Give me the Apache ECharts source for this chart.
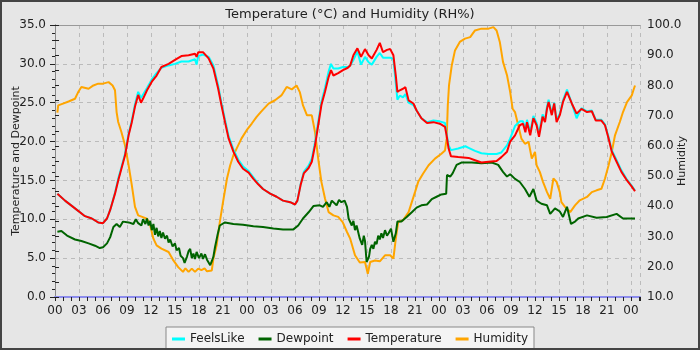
<!DOCTYPE html>
<html>
<head>
<meta charset="utf-8">
<script src="https://cdn.jsdelivr.net/npm/echarts/dist/echarts.min.js"></script>
<style>
  html, body { margin: 0; padding: 0; background: #e6e6e6; }
  #chart { width: 700px; height: 350px; }
</style>
</head>
<body>
<div id="chart"></div>
<script>
// Hours since first midnight
const temperature = [[0.3,13.3],[1.25,12.4],[2.5,11.4],[3.75,10.4],[4.6,10.1],[5.4,9.6],[6.0,9.5],[6.5,10.1],[6.9,11.2],[7.5,13.3],[7.9,15.0],[8.3,16.5],[8.75,18.2],[9.2,20.8],[9.6,22.5],[10.0,24.5],[10.4,26.0],[10.75,25.0],[11.0,25.5],[11.5,26.6],[12.1,27.7],[12.7,28.5],[13.3,29.6],[14.2,30.0],[15.0,30.5],[15.8,31.0],[16.7,31.1],[17.5,31.3],[17.7,30.9],[17.9,31.5],[18.1,31.5],[18.5,31.5],[19.2,30.7],[19.8,29.4],[20.4,26.8],[20.8,24.7],[21.25,22.5],[21.7,20.4],[22.3,18.7],[22.9,17.4],[23.5,16.5],[24.2,16.0],[24.8,15.2],[25.4,14.5],[26.0,13.9],[26.9,13.3],[27.7,12.9],[28.5,12.4],[29.4,12.2],[30.0,11.9],[30.3,12.4],[30.7,14.4],[31.1,15.9],[31.7,16.6],[32.1,17.4],[32.5,19.5],[32.9,22.1],[33.3,24.7],[33.75,26.4],[34.2,28.3],[34.5,29.2],[34.8,28.5],[35.4,28.8],[36.0,29.2],[36.6,29.5],[36.9,29.8],[37.3,31.1],[37.8,32.0],[38.25,30.9],[38.75,31.9],[39.2,31.1],[39.6,30.7],[40.2,31.8],[40.6,32.7],[41.0,31.5],[41.5,31.8],[41.9,31.9],[42.3,31.1],[42.6,28.5],[42.8,26.4],[43.1,26.6],[43.5,26.8],[43.8,27.0],[44.2,25.3],[44.8,24.9],[45.2,24.0],[45.8,23.0],[46.5,22.4],[47.3,22.5],[48.1,22.3],[48.75,21.9],[48.95,20.8],[49.2,19.1],[49.5,18.1],[50.4,18.0],[51.7,17.9],[52.5,17.6],[53.3,17.3],[54.2,17.4],[55.2,17.5],[55.8,18.0],[56.5,18.7],[56.9,20.0],[57.5,20.8],[58.1,22.1],[58.5,22.3],[58.8,21.2],[59.0,22.5],[59.4,20.8],[59.8,23.0],[60.2,22.1],[60.5,20.6],[60.95,23.2],[61.25,22.5],[61.5,24.2],[61.7,25.1],[62.1,23.4],[62.4,24.9],[62.7,22.5],[63.1,23.4],[63.5,25.1],[64.0,26.4],[64.6,24.9],[65.2,23.6],[65.8,24.2],[66.5,23.8],[67.1,23.9],[67.6,22.7],[68.3,22.7],[68.75,22.1],[69.2,20.4],[69.6,18.7],[70.2,17.4],[70.8,16.1],[71.5,15.0],[72.1,14.2],[72.5,13.6]];

const feelsLike = [[0.3,13.3],[1.25,12.4],[2.5,11.4],[3.75,10.4],[4.6,10.1],[5.4,9.6],[6.0,9.5],[6.5,10.1],[6.9,11.2],[7.5,13.4],[7.9,15.2],[8.3,16.7],[8.75,18.4],[9.2,21.0],[9.6,22.7],[10.0,24.8],[10.4,26.4],[10.75,25.6],[11.0,25.8],[11.5,26.9],[12.1,28.0],[12.7,28.8],[13.3,29.5],[14.2,29.8],[15.0,30.0],[15.8,30.3],[16.7,30.3],[17.5,30.6],[17.7,29.9],[17.9,31.0],[18.1,31.0],[18.5,31.2],[19.2,30.9],[19.8,29.8],[20.4,27.2],[20.8,25.0],[21.25,22.8],[21.7,20.7],[22.3,19.0],[22.9,17.7],[23.5,16.8],[24.2,16.2],[24.8,15.4],[25.4,14.6],[26.0,13.9],[26.9,13.3],[27.7,12.9],[28.5,12.4],[29.4,12.2],[30.0,11.9],[30.3,12.4],[30.7,14.5],[31.1,16.1],[31.7,16.9],[32.1,17.8],[32.5,19.9],[32.9,22.5],[33.3,25.1],[33.75,26.9],[34.2,29.0],[34.5,30.0],[34.8,29.4],[35.4,29.4],[36.0,29.6],[36.6,29.6],[36.9,29.8],[37.3,30.5],[37.8,31.6],[38.25,29.9],[38.75,30.9],[39.2,30.2],[39.6,29.9],[40.2,30.9],[40.6,31.4],[41.0,30.8],[41.5,30.8],[41.9,30.8],[42.3,30.6],[42.6,27.5],[42.8,25.4],[43.1,25.9],[43.5,25.7],[43.8,26.1],[44.2,25.0],[44.8,24.7],[45.2,24.0],[45.8,23.0],[46.5,22.5],[47.3,22.7],[48.1,22.6],[48.75,22.4],[48.95,21.0],[49.2,19.5],[49.5,18.9],[50.4,19.1],[51.3,19.4],[51.7,19.2],[52.5,18.8],[53.3,18.5],[54.2,18.4],[55.2,18.4],[55.8,18.6],[56.5,19.5],[56.9,20.4],[57.5,22.0],[58.1,22.6],[58.5,22.6],[58.8,21.6],[59.0,22.8],[59.4,21.2],[59.8,23.3],[60.2,22.4],[60.5,21.0],[60.95,23.5],[61.25,22.8],[61.5,24.5],[61.7,25.4],[62.1,23.6],[62.4,25.0],[62.7,22.8],[63.1,23.6],[63.5,25.3],[64.0,26.7],[64.6,24.9],[65.2,23.0],[65.8,24.3],[66.5,23.9],[67.1,24.0],[67.6,22.8],[68.3,22.8],[68.75,22.2],[69.2,20.6],[69.6,18.9],[70.2,17.6],[70.8,16.3],[71.5,15.1],[72.1,14.3],[72.5,13.7]];

const dewpoint = [[0.3,8.4],[0.8,8.5],[1.5,7.9],[2.5,7.4],[3.3,7.2],[4.2,6.9],[5.0,6.6],[5.6,6.3],[6.0,6.4],[6.5,6.9],[6.9,7.7],[7.3,9.0],[7.7,9.4],[8.1,9.0],[8.5,9.7],[9.2,9.6],[9.8,9.4],[10.1,10.0],[10.4,9.5],[10.8,9.2],[11.0,10.0],[11.3,9.4],[11.5,10.1],[11.7,9.2],[11.9,9.8],[12.1,8.6],[12.3,9.4],[12.5,8.0],[12.7,8.9],[12.9,7.8],[13.1,8.5],[13.3,7.6],[13.5,8.3],[13.75,7.5],[14.0,7.9],[14.2,7.0],[14.4,7.4],[14.7,6.5],[15.0,6.9],[15.2,6.0],[15.5,6.3],[15.7,5.3],[16.0,5.0],[16.2,4.4],[16.5,5.2],[16.7,5.9],[16.9,6.2],[17.1,5.0],[17.3,5.6],[17.5,4.9],[17.7,5.8],[18.0,5.0],[18.3,5.6],[18.5,4.9],[18.75,5.5],[19.0,4.8],[19.2,5.0],[19.4,4.1],[19.6,4.6],[19.8,5.2],[20.0,6.4],[20.3,7.9],[20.6,9.2],[21.25,9.6],[22.3,9.4],[23.5,9.3],[24.8,9.1],[26.0,9.0],[27.3,8.8],[28.5,8.7],[29.8,8.7],[30.4,9.2],[31.0,10.1],[31.7,10.9],[32.3,11.7],[33.1,11.8],[33.5,11.6],[33.96,12.2],[34.3,11.6],[34.6,12.4],[35.2,11.8],[35.5,12.5],[35.8,12.2],[36.2,12.4],[36.5,11.6],[36.7,10.1],[37.1,9.2],[37.3,9.8],[37.5,8.6],[37.7,9.2],[38.1,7.5],[38.4,6.7],[38.6,7.9],[38.75,7.2],[38.95,4.5],[39.25,5.2],[39.4,6.2],[39.6,6.7],[39.8,6.2],[40.0,7.1],[40.2,6.8],[40.4,7.9],[40.6,7.4],[40.8,8.2],[41.0,7.6],[41.25,8.6],[41.5,7.9],[41.7,8.2],[42.0,8.8],[42.3,7.1],[42.6,8.2],[42.8,9.7],[43.3,9.7],[43.96,10.3],[44.6,10.9],[45.2,11.5],[45.8,11.8],[46.5,11.9],[47.1,12.6],[47.7,12.9],[48.3,13.2],[48.9,13.3],[49.0,15.7],[49.4,15.5],[49.7,15.9],[50.2,17.0],[50.8,17.3],[52.1,17.3],[53.3,17.2],[54.6,17.3],[55.4,17.0],[56.0,16.1],[56.5,15.5],[56.9,15.8],[57.5,15.2],[58.1,14.8],[58.75,13.9],[59.3,12.9],[59.8,13.9],[60.2,12.4],[60.8,12.0],[61.5,11.8],[61.9,10.7],[62.5,11.4],[63.1,11.0],[63.5,10.3],[64.0,11.6],[64.5,9.4],[65.0,9.7],[65.4,10.1],[66.5,10.5],[67.7,10.2],[68.96,10.3],[70.2,10.7],[71.0,10.1],[71.9,10.1],[72.5,10.1]];

const humidity = [[0.3,71.0],[0.4,73.4],[1.0,74.0],[1.7,74.7],[2.5,75.6],[2.9,77.8],[3.3,79.5],[4.2,78.9],[4.8,80.0],[5.4,80.6],[6.0,80.6],[6.7,81.1],[7.2,80.0],[7.5,78.4],[7.7,71.2],[7.9,67.9],[8.3,64.6],[8.75,60.2],[9.2,53.6],[9.6,47.0],[10.0,39.8],[10.4,37.0],[10.9,36.5],[11.5,35.9],[11.9,33.7],[12.3,29.3],[12.7,27.1],[13.3,26.0],[14.2,24.9],[14.8,22.1],[15.4,19.9],[16.0,18.3],[16.3,19.5],[16.7,18.3],[17.1,19.4],[17.5,18.3],[17.9,19.4],[18.3,18.9],[18.7,19.5],[19.0,18.5],[19.6,18.8],[19.8,22.7],[20.2,27.1],[20.6,34.8],[21.0,41.4],[21.5,49.2],[21.9,53.6],[22.3,56.9],[22.7,59.1],[23.3,62.4],[23.96,65.2],[24.6,67.4],[25.2,69.6],[25.8,71.4],[26.7,74.0],[27.5,75.1],[28.3,76.7],[28.96,79.5],[29.6,78.7],[30.2,80.0],[30.6,77.8],[31.0,73.4],[31.5,70.1],[32.1,70.1],[32.5,64.6],[32.9,55.8],[33.3,48.1],[33.75,42.6],[34.2,38.1],[34.8,37.0],[35.4,36.5],[35.96,34.8],[36.5,31.5],[36.9,29.3],[37.5,23.8],[38.1,21.4],[38.75,21.6],[39.1,17.7],[39.4,21.6],[40.0,22.1],[40.6,21.8],[41.25,23.8],[41.9,23.8],[42.3,22.7],[42.6,29.3],[42.9,34.8],[43.5,35.4],[44.2,38.1],[44.6,41.4],[45.0,44.7],[45.4,48.1],[46.0,50.8],[46.7,53.6],[47.5,55.8],[48.3,57.4],[48.75,58.5],[48.96,62.4],[49.1,73.4],[49.25,80.0],[49.6,86.7],[50.0,91.6],[50.6,94.4],[51.25,95.5],[51.9,96.0],[52.5,98.2],[53.3,98.8],[54.2,98.8],[54.8,99.3],[55.0,99.5],[55.2,98.2],[55.6,94.4],[56.0,87.8],[56.5,83.4],[56.9,77.8],[57.2,72.3],[57.5,71.2],[57.9,66.8],[58.3,62.4],[58.75,60.7],[59.2,61.3],[59.6,55.8],[60.0,58.0],[60.2,53.6],[60.6,51.4],[61.0,48.1],[61.5,44.7],[61.9,42.5],[62.3,49.2],[62.7,48.1],[63.1,44.7],[63.3,41.4],[63.75,39.8],[64.4,38.1],[65.0,40.3],[65.6,42.0],[66.5,43.1],[67.1,44.7],[67.7,45.3],[68.3,45.8],[68.75,49.2],[69.2,53.6],[69.6,58.0],[70.0,63.5],[70.6,67.9],[71.0,71.2],[71.5,74.5],[72.1,76.7],[72.3,78.4],[72.5,80.0]];

const titleText = 'Temperature (°C) and Humidity (RH%)';
const leftAxisName = 'Temperature and Dewpoint';
const rightAxisName = 'Humidity';
const legendNames = ['FeelsLike', 'Dewpoint', 'Temperature', 'Humidity'];

const FONT = 'DejaVu Sans';
const chart = echarts.init(document.getElementById('chart'), null, { renderer: 'canvas' });

function hourLabel(v) {
  const r = Math.round(v);
  if (Math.abs(v - r) > 1e-6 || r % 3 !== 0) return '';
  const h = r % 24;
  return (h < 10 ? '0' : '') + h;
}

const option = {
  backgroundColor: '#e6e6e6',
  animation: false,
  textStyle: { fontFamily: FONT },
  title: {
    text: titleText, left: 'center', top: 3,
    textStyle: { fontFamily: FONT, fontSize: 13, fontWeight: 'normal', color: '#222' }
  },
  legend: {
    data: legendNames,
    bottom: -3, left: 'center',
    icon: 'rect', itemWidth: 13, itemHeight: 3, itemGap: 14,
    backgroundColor: '#f4f4f4', borderColor: '#888', borderWidth: 1,
    padding: [6, 6, 8, 6],
    textStyle: { fontFamily: FONT, fontSize: 12, color: '#222' }
  },
  grid: {
    left: 55, right: 60, top: 25, bottom: 53,
    containLabel: false, outerBoundsMode: 'none',
    show: true, backgroundColor: '#e6e6e6', borderWidth: 0
  },
  xAxis: [
    {
      type: 'value', min: 0, max: 73.125, interval: 3, position: 'bottom',
      axisLine: { show: true, lineStyle: { color: '#8c8cec', width: 2 } },
      axisTick: { show: true, length: 4, lineStyle: { color: '#222' } },
      minorTick: { show: true, splitNumber: 3, length: 4, lineStyle: { color: '#222' } },
      axisLabel: { formatter: hourLabel, fontFamily: FONT, fontSize: 12, color: '#222', margin: 8, showMaxLabel: false },
      splitLine: { show: true, lineStyle: { color: '#bbb', type: [4, 4] } }
    },
    {
      type: 'value', min: 0, max: 73.125, position: 'top',
      axisLine: { show: true, onZero: false, lineStyle: { color: '#999', width: 1 } },
      axisTick: { show: false }, axisLabel: { show: false }, splitLine: { show: false }
    }
  ],
  yAxis: [
    {
      type: 'value', min: 0, max: 35, interval: 5, position: 'left',
      name: leftAxisName, nameLocation: 'middle', nameGap: 33, nameRotate: 90, nameMoveOverlap: false,
      nameTextStyle: { fontFamily: FONT, fontSize: 11, color: '#222' },
      axisLine: { show: true, lineStyle: { color: '#888' } },
      axisTick: { show: true, length: 5, lineStyle: { color: '#222' } },
      minorTick: { show: true, splitNumber: 5, length: 3, lineStyle: { color: '#222' } },
      axisLabel: { formatter: v => v.toFixed(1), fontFamily: FONT, fontSize: 12, color: '#222', margin: 9 },
      splitLine: { show: true, lineStyle: { color: '#bbb', type: [4, 4] } }
    },
    {
      type: 'value', min: 10, max: 100, interval: 10, position: 'right',
      name: rightAxisName, nameLocation: 'middle', nameGap: 37, nameRotate: 90, nameMoveOverlap: false,
      nameTextStyle: { fontFamily: FONT, fontSize: 11, color: '#222' },
      axisLine: { show: true, lineStyle: { color: '#888' } },
      axisTick: { show: true, length: 4, lineStyle: { color: '#222' } },
      minorTick: { show: true, splitNumber: 2, length: 4, lineStyle: { color: '#222' } },
      axisLabel: { formatter: v => v.toFixed(1), fontFamily: FONT, fontSize: 12, color: '#222', margin: 7 },
      splitLine: { show: false }
    }
  ],
  series: [
    { name: 'Humidity', type: 'line', yAxisIndex: 1, data: humidity, showSymbol: false, symbol: 'none',
      lineStyle: { color: '#ffa500', width: 2 }, itemStyle: { color: '#ffa500' } },
    { name: 'FeelsLike', type: 'line', yAxisIndex: 0, data: feelsLike, showSymbol: false, symbol: 'none',
      lineStyle: { color: '#00ffff', width: 2 }, itemStyle: { color: '#00ffff' } },
    { name: 'Dewpoint', type: 'line', yAxisIndex: 0, data: dewpoint, showSymbol: false, symbol: 'none',
      lineStyle: { color: '#006400', width: 2 }, itemStyle: { color: '#006400' } },
    { name: 'Temperature', type: 'line', yAxisIndex: 0, data: temperature, showSymbol: false, symbol: 'none',
      lineStyle: { color: '#ff0000', width: 2 }, itemStyle: { color: '#ff0000' } }
  ],
  graphic: [
    { type: 'rect', silent: true, z: 100,
      shape: { x: 1, y: 1, width: 698, height: 348 },
      style: { fill: 'none', stroke: '#444', lineWidth: 2 } }
  ]
};
chart.setOption(option);
</script>
</body>
</html>
